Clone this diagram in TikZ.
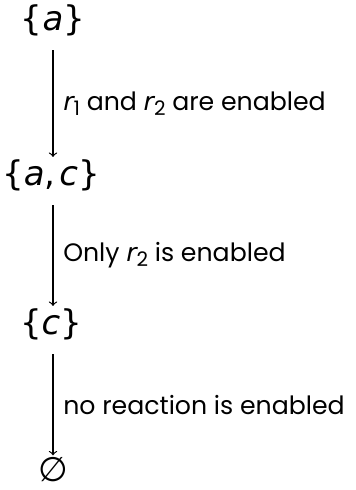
\documentclass[tikz,border=0pt]{standalone}
\usepackage{fontspec}
\setmainfont{Poppins}
\newfontfamily\setfont{DejaVu Sans}
\usetikzlibrary{positioning}
\newcommand{\rname}[1]{{\setfont\itshape r}\raisebox{-0.35ex}{\fontsize{10}{12}\selectfont #1}}

\begin{document}
\begin{tikzpicture}[x=0.5pt,y=-0.5pt,
  state/.style={font=\setfont\fontsize{17}{20}\selectfont, inner sep=1pt},
  step label/.style={font=\fontsize{12.6}{15}\selectfont, right=1.5pt, yshift=-3pt},
  flow/.style={->, line width=0.6pt, shorten <=6pt},
]
  \useasboundingbox (0,0) rectangle (356,490);
  \node[state] (a) at (53,20) {\{\textit{a}\}};
  \node[state] (ac) at (51,175) {\{\textit{a},\hspace{2pt}\textit{c}\}};
  \node[state] (c) at (51,324) {\{\textit{c}\}};
  \node[state] (empty) at (53,470) {\textit{∅}};

  \draw[flow] (a) -- node[step label] {\rname{1} and \rname{2} are enabled} (a |- ac.north);
  \draw[flow] (ac.south -| a) -- node[step label] {Only \rname{2} is enabled} (a |- c.north);
  \draw[flow] (c.south -| a) -- node[step label] {no reaction is enabled} (a |- empty.north);
\end{tikzpicture}
\end{document}
